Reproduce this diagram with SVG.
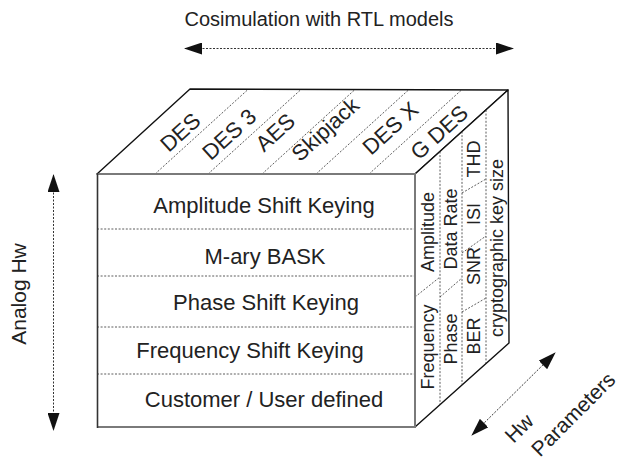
<svg xmlns="http://www.w3.org/2000/svg" width="624" height="461" viewBox="0 0 624 461">
  <style>
    text { font-family: "Liberation Sans", Arial, Helvetica, sans-serif; fill: #222; }
    .front { font-size: 22px; text-anchor: middle; }
    .top { font-size: 22px; text-anchor: middle; }
    .side { font-size: 18px; text-anchor: middle; }
    .axis { font-size: 21px; text-anchor: middle; }
    .edge { stroke: #111; stroke-width: 1.4; fill: #fff; stroke-linejoin: round; }
    .rim { stroke: #7a7a7a; stroke-width: 2; fill: none; }
    .dash { stroke: #333; stroke-width: 0.8; stroke-dasharray: 2 1.6; fill: none; }
    .arrow { stroke: #333; stroke-width: 1; stroke-dasharray: 2 1.5; fill: none; }
  </style>
  <defs>
    <marker id="head" viewBox="0 0 18 12" refX="17" refY="6" markerWidth="18" markerHeight="12" markerUnits="userSpaceOnUse" orient="auto-start-reverse">
      <path d="M0,0 L18,6 L0,12 Z" fill="#111"/>
    </marker>
  </defs>

  <!-- top face: ciphers -->
  <g id="top-face">
    <polygon class="edge" points="97,174 190,89 508,90 415,174"/>
    <g class="dash">
      <line x1="155" y1="174" x2="248" y2="89.5"/>
      <line x1="208" y1="174" x2="301" y2="89.5"/>
      <line x1="262" y1="174" x2="355" y2="89.5"/>
      <line x1="316" y1="174" x2="409" y2="89.5"/>
      <line x1="369" y1="174" x2="462" y2="89.5"/>
    </g>
  </g>
  <g id="cipher-des"><text class="top" transform="translate(180,132) rotate(-42.4)" dy="0.36em">DES</text></g>
  <g id="cipher-des3"><text class="top" transform="translate(229,134) rotate(-42.4)" dy="0.36em">DES 3</text></g>
  <g id="cipher-aes"><text class="top" transform="translate(275,132) rotate(-42.4)" dy="0.36em">AES</text></g>
  <g id="cipher-skipjack"><text class="top" transform="translate(325,129) rotate(-42.4)" dy="0.36em">Skipjack</text></g>
  <g id="cipher-desx"><text class="top" transform="translate(390,128) rotate(-42.4)" dy="0.36em">DES X</text></g>
  <g id="cipher-gdes"><text class="top" transform="translate(439,132) rotate(-42.4)" dy="0.36em">G DES</text></g>

  <!-- right face: hardware parameters -->
  <g id="right-face">
    <polygon class="edge" points="415,174 508,90 509,343 415,427"/>
    <g class="dash">
      <line x1="440" y1="151.5" x2="440" y2="404.5"/>
      <line x1="462" y1="131.5" x2="462" y2="384.5"/>
      <line x1="486" y1="110" x2="486" y2="363"/>
      <line x1="415" y1="297" x2="440" y2="277"/>
      <line x1="440" y1="297" x2="462" y2="278"/>
      <line x1="462" y1="193" x2="486" y2="179"/>
      <line x1="462" y1="253" x2="486" y2="236"/>
      <line x1="462" y1="312" x2="486" y2="298"/>
    </g>
  </g>
  <g id="param-amplitude"><text class="side" transform="translate(434,232) rotate(-90)">Amplitude</text></g>
  <g id="param-frequency"><text class="side" transform="translate(434,347) rotate(-90)">Frequency</text></g>
  <g id="param-datarate"><text class="side" transform="translate(457,229) rotate(-90)">Data Rate</text></g>
  <g id="param-phase"><text class="side" transform="translate(457,339) rotate(-90)">Phase</text></g>
  <g id="param-thd"><text class="side" transform="translate(480,159) rotate(-90)">THD</text></g>
  <g id="param-isi"><text class="side" transform="translate(480,214) rotate(-90)">ISI</text></g>
  <g id="param-snr"><text class="side" transform="translate(480,266) rotate(-90)">SNR</text></g>
  <g id="param-ber"><text class="side" transform="translate(480,336) rotate(-90)">BER</text></g>
  <g id="param-keysize"><text class="side" transform="translate(503,248) rotate(-90)">cryptographic key size</text></g>

  <!-- front face: modulation schemes -->
  <g id="front-face">
    <rect x="97" y="174" width="318" height="253" fill="#fff"/>
    <g class="dash">
      <line x1="97" y1="229" x2="415" y2="229"/>
      <line x1="97" y1="276" x2="415" y2="276"/>
      <line x1="97" y1="327" x2="415" y2="327"/>
      <line x1="97" y1="374" x2="415" y2="374"/>
    </g>
    <polyline class="rim" points="97,174 415,174 415,427 97,427"/>
    <line x1="97.5" y1="173" x2="97.5" y2="428" stroke="#333" stroke-width="1.6"/>
  </g>
  <g id="mod-ask"><text class="front" x="264" y="213">Amplitude Shift Keying</text></g>
  <g id="mod-mary"><text class="front" x="265" y="264">M-ary BASK</text></g>
  <g id="mod-psk"><text class="front" x="266" y="310">Phase Shift Keying</text></g>
  <g id="mod-fsk"><text class="front" x="250" y="358">Frequency Shift Keying</text></g>
  <g id="mod-custom"><text class="front" x="264" y="407">Customer / User defined</text></g>

  <!-- axis labels -->
  <g id="axis-rtl"><text x="319" y="26" font-size="20" text-anchor="middle">Cosimulation with RTL models</text></g>
  <g id="axis-analog"><text class="axis" font-size="22" transform="translate(26,294) rotate(-90)">Analog Hw</text></g>
  <g id="axis-hw">
    <text class="axis" transform="translate(519,428) rotate(-45)" dy="0.36em">Hw</text>
    <text class="axis" font-size="20" transform="translate(573,414) rotate(-45)" dy="0.36em">Parameters</text>
  </g>

  <!-- connectors -->
  <g id="connectors">
    <line class="arrow" x1="185" y1="48.5" x2="513" y2="48.5" marker-start="url(#head)" marker-end="url(#head)"/>
    <line class="arrow" x1="53.5" y1="175" x2="53.5" y2="430" marker-start="url(#head)" marker-end="url(#head)"/>
    <line class="arrow" x1="472" y1="435" x2="555" y2="353" marker-start="url(#head)" marker-end="url(#head)"/>
  </g>
</svg>
